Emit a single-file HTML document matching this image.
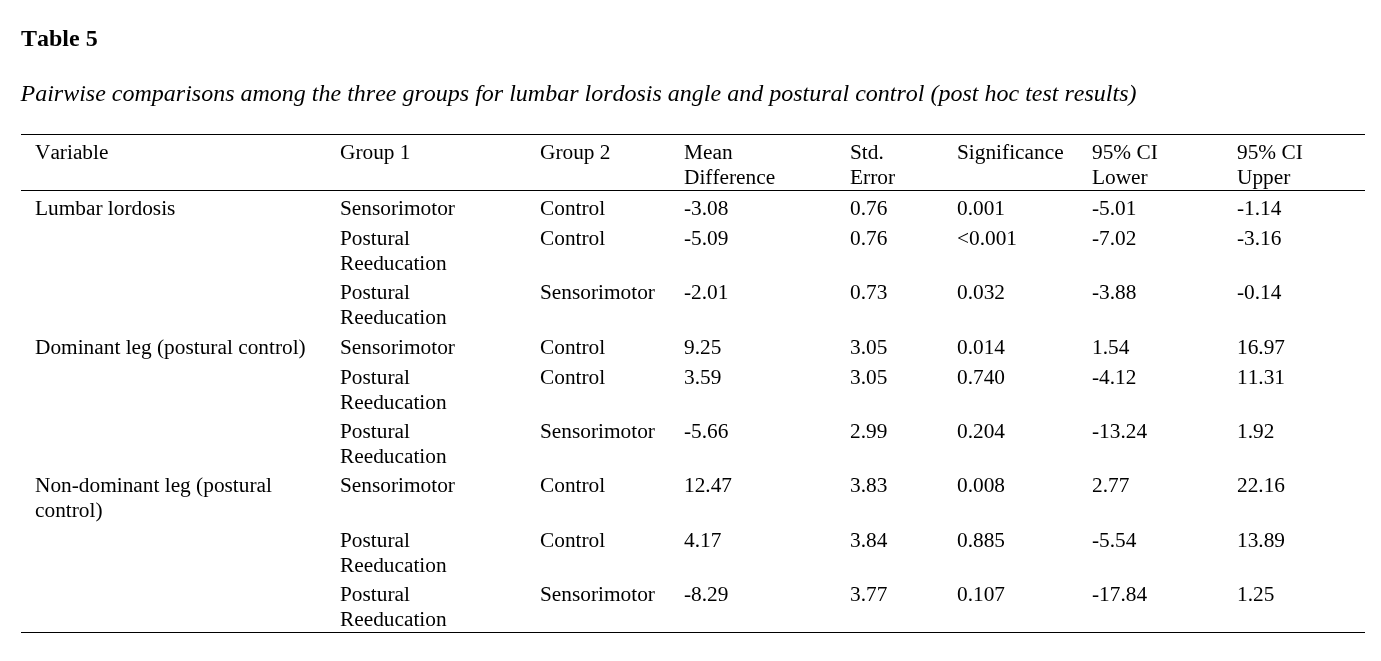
<!DOCTYPE html>
<html><head><meta charset="utf-8"><title>Table 5</title>
<style>
html,body{margin:0;padding:0;background:#fff;}
body{width:1381px;height:661px;position:relative;overflow:hidden;font-family:"Liberation Serif","Times New Roman",serif;color:#000;font-kerning:none;font-variant-ligatures:none;}
.t{position:absolute;white-space:nowrap;font-size:21.33px;line-height:25px;}
.title{position:absolute;left:21px;top:24px;font-size:24px;line-height:28px;font-weight:bold;white-space:nowrap;}
.cap{position:absolute;left:20.5px;top:79px;font-size:24px;line-height:28px;font-style:italic;white-space:nowrap;}
.hr{position:absolute;left:21px;width:1344px;height:1px;background:#000;}
</style></head><body>
<div class="title">Table 5</div>
<div class="cap">Pairwise comparisons among the three groups for lumbar lordosis angle and postural control (post hoc test results)</div>
<div class="hr" style="top:134px"></div>
<div class="hr" style="top:190px"></div>
<div class="hr" style="top:632px"></div>

<div class="t" style="left:35px;top:139.50px">Variable</div>
<div class="t" style="left:340px;top:139.50px">Group 1</div>
<div class="t" style="left:540px;top:139.50px">Group 2</div>
<div class="t" style="left:684px;top:139.50px">Mean<br>Difference</div>
<div class="t" style="left:850px;top:139.50px">Std.<br>Error</div>
<div class="t" style="left:957px;top:139.50px">Significance</div>
<div class="t" style="left:1092px;top:139.50px">95% CI<br>Lower</div>
<div class="t" style="left:1237px;top:139.50px">95% CI<br>Upper</div>
<div class="t" style="left:35px;top:195.50px">Lumbar lordosis</div>
<div class="t" style="left:340px;top:195.50px">Sensorimotor</div>
<div class="t" style="left:540px;top:195.50px">Control</div>
<div class="t" style="left:684px;top:195.50px">-3.08</div>
<div class="t" style="left:850px;top:195.50px">0.76</div>
<div class="t" style="left:957px;top:195.50px">0.001</div>
<div class="t" style="left:1092px;top:195.50px">-5.01</div>
<div class="t" style="left:1237px;top:195.50px">-1.14</div>
<div class="t" style="left:340px;top:225.50px">Postural<br>Reeducation</div>
<div class="t" style="left:540px;top:225.50px">Control</div>
<div class="t" style="left:684px;top:225.50px">-5.09</div>
<div class="t" style="left:850px;top:225.50px">0.76</div>
<div class="t" style="left:957px;top:225.50px">&lt;0.001</div>
<div class="t" style="left:1092px;top:225.50px">-7.02</div>
<div class="t" style="left:1237px;top:225.50px">-3.16</div>
<div class="t" style="left:340px;top:279.50px">Postural<br>Reeducation</div>
<div class="t" style="left:540px;top:279.50px">Sensorimotor</div>
<div class="t" style="left:684px;top:279.50px">-2.01</div>
<div class="t" style="left:850px;top:279.50px">0.73</div>
<div class="t" style="left:957px;top:279.50px">0.032</div>
<div class="t" style="left:1092px;top:279.50px">-3.88</div>
<div class="t" style="left:1237px;top:279.50px">-0.14</div>
<div class="t" style="left:35px;top:334.50px">Dominant leg (postural control)</div>
<div class="t" style="left:340px;top:334.50px">Sensorimotor</div>
<div class="t" style="left:540px;top:334.50px">Control</div>
<div class="t" style="left:684px;top:334.50px">9.25</div>
<div class="t" style="left:850px;top:334.50px">3.05</div>
<div class="t" style="left:957px;top:334.50px">0.014</div>
<div class="t" style="left:1092px;top:334.50px">1.54</div>
<div class="t" style="left:1237px;top:334.50px">16.97</div>
<div class="t" style="left:340px;top:364.50px">Postural<br>Reeducation</div>
<div class="t" style="left:540px;top:364.50px">Control</div>
<div class="t" style="left:684px;top:364.50px">3.59</div>
<div class="t" style="left:850px;top:364.50px">3.05</div>
<div class="t" style="left:957px;top:364.50px">0.740</div>
<div class="t" style="left:1092px;top:364.50px">-4.12</div>
<div class="t" style="left:1237px;top:364.50px">11.31</div>
<div class="t" style="left:340px;top:418.50px">Postural<br>Reeducation</div>
<div class="t" style="left:540px;top:418.50px">Sensorimotor</div>
<div class="t" style="left:684px;top:418.50px">-5.66</div>
<div class="t" style="left:850px;top:418.50px">2.99</div>
<div class="t" style="left:957px;top:418.50px">0.204</div>
<div class="t" style="left:1092px;top:418.50px">-13.24</div>
<div class="t" style="left:1237px;top:418.50px">1.92</div>
<div class="t" style="left:35px;top:472.50px">Non-dominant leg (postural<br>control)</div>
<div class="t" style="left:340px;top:472.50px">Sensorimotor</div>
<div class="t" style="left:540px;top:472.50px">Control</div>
<div class="t" style="left:684px;top:472.50px">12.47</div>
<div class="t" style="left:850px;top:472.50px">3.83</div>
<div class="t" style="left:957px;top:472.50px">0.008</div>
<div class="t" style="left:1092px;top:472.50px">2.77</div>
<div class="t" style="left:1237px;top:472.50px">22.16</div>
<div class="t" style="left:340px;top:527.50px">Postural<br>Reeducation</div>
<div class="t" style="left:540px;top:527.50px">Control</div>
<div class="t" style="left:684px;top:527.50px">4.17</div>
<div class="t" style="left:850px;top:527.50px">3.84</div>
<div class="t" style="left:957px;top:527.50px">0.885</div>
<div class="t" style="left:1092px;top:527.50px">-5.54</div>
<div class="t" style="left:1237px;top:527.50px">13.89</div>
<div class="t" style="left:340px;top:581.50px">Postural<br>Reeducation</div>
<div class="t" style="left:540px;top:581.50px">Sensorimotor</div>
<div class="t" style="left:684px;top:581.50px">-8.29</div>
<div class="t" style="left:850px;top:581.50px">3.77</div>
<div class="t" style="left:957px;top:581.50px">0.107</div>
<div class="t" style="left:1092px;top:581.50px">-17.84</div>
<div class="t" style="left:1237px;top:581.50px">1.25</div>
</body></html>
